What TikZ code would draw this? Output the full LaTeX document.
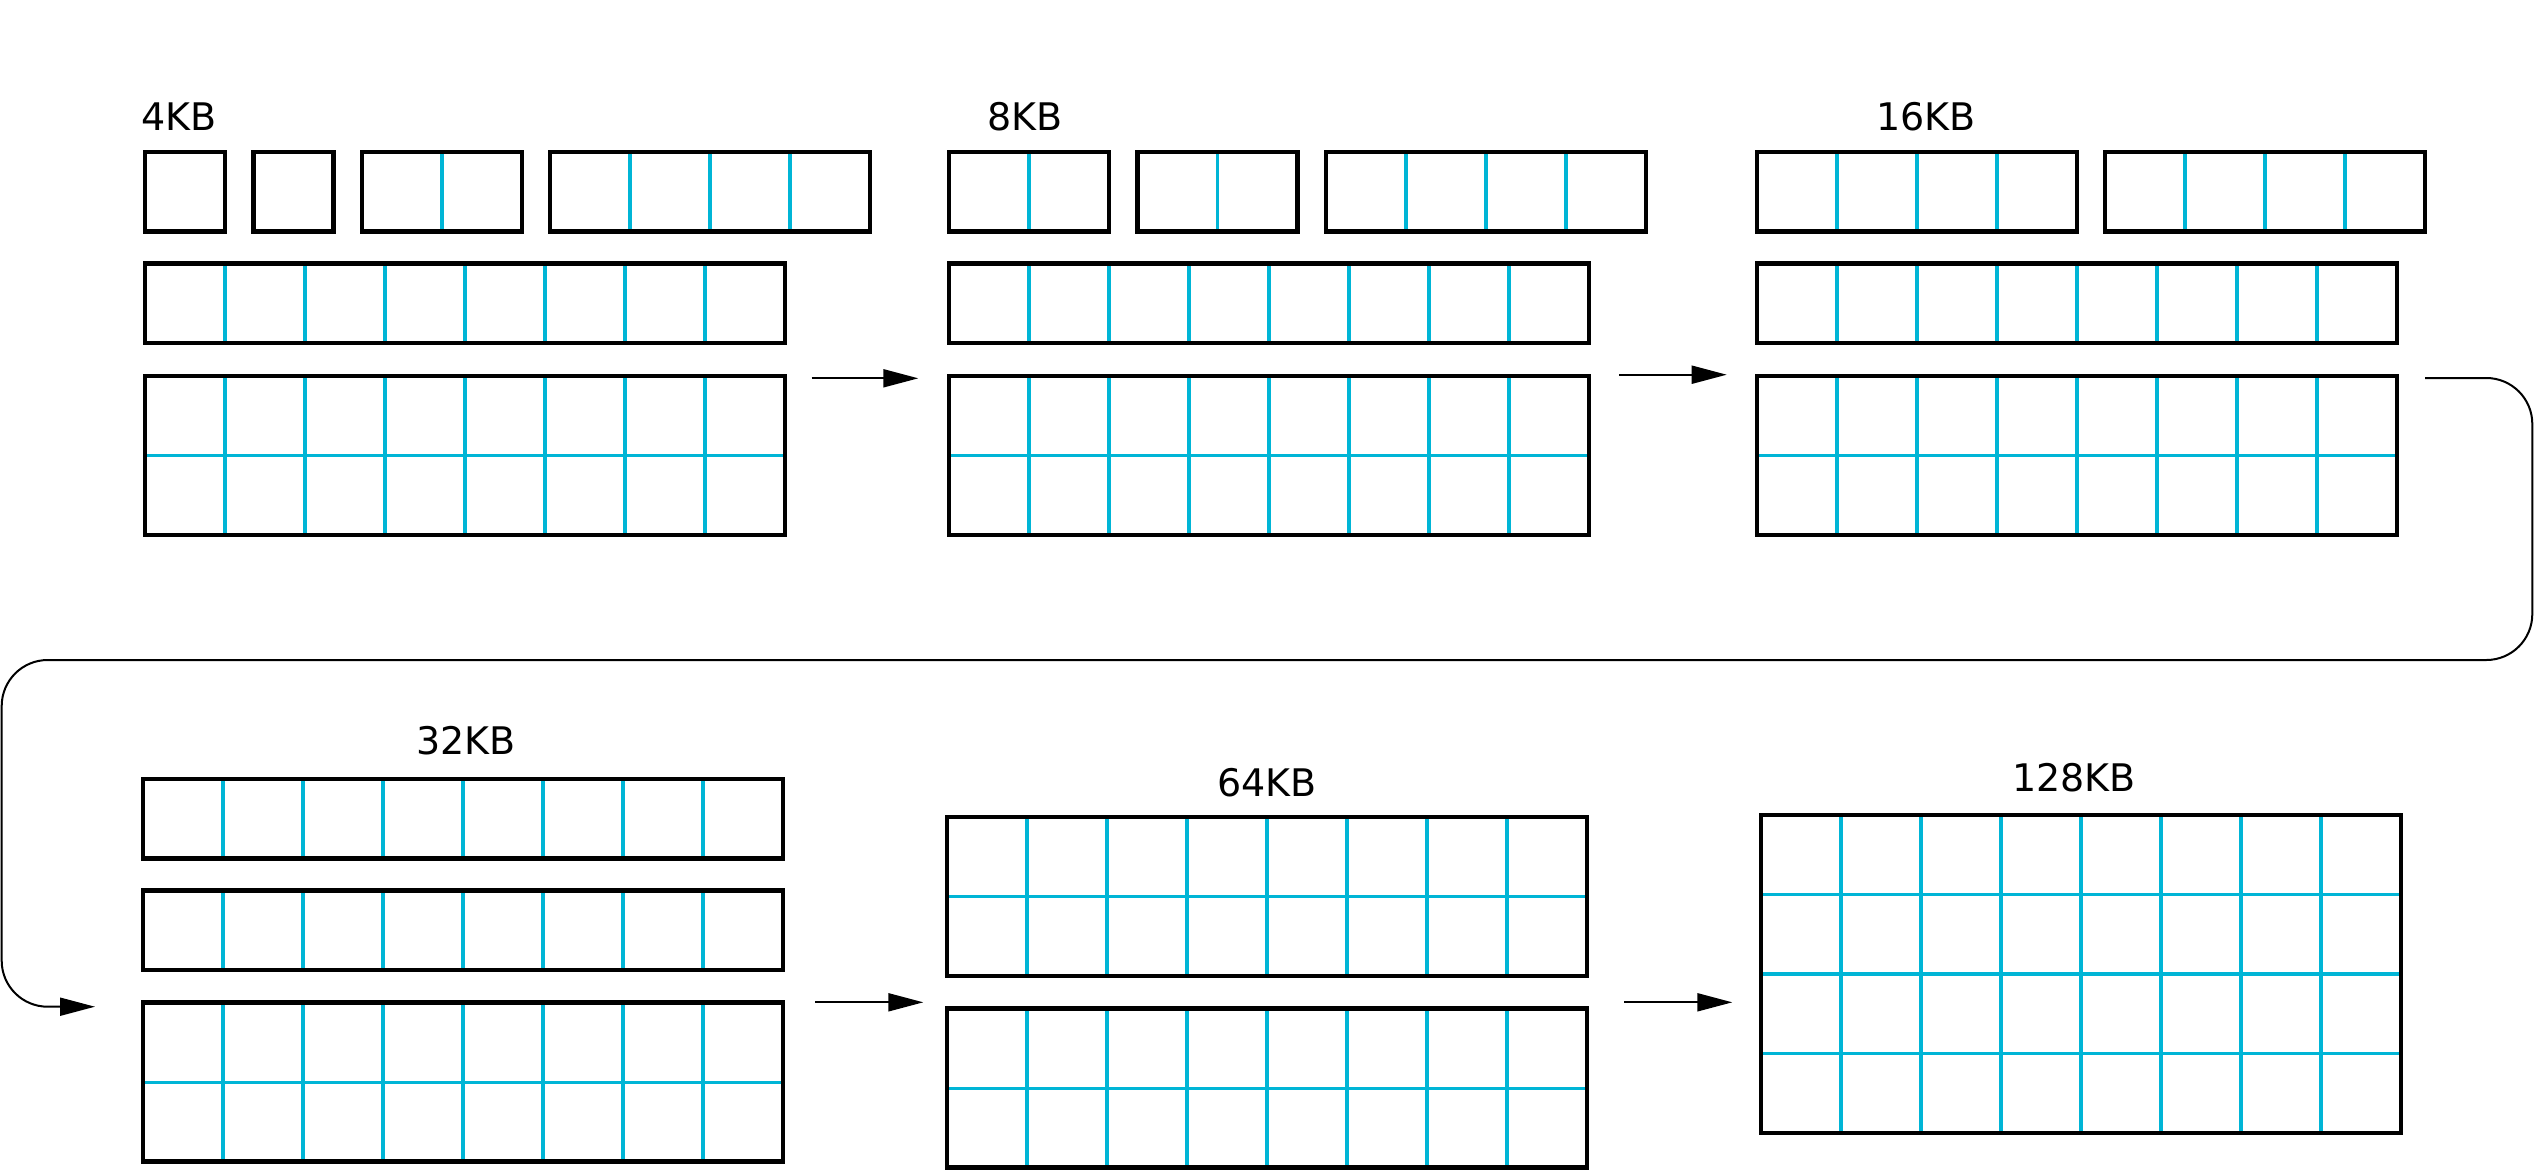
\documentclass[tikz,border=0pt]{standalone}
\usepackage{fontspec}
\setmainfont{DejaVu Sans}
\usetikzlibrary{arrows.meta}
\definecolor{cellcyan}{HTML}{00B5D6}
\def\rowh{79.5}
\newcommand\memblock[5]{%
  \pgfmathtruncatemacro\mbc{#4-1}%
  \pgfmathtruncatemacro\mbr{#5-1}%
  \ifnum\mbc>0 \foreach \i in {1,...,\mbc} {\draw[cell] (#2+\i*80,#3) -- ++(0,#5*\rowh);}\fi
  \ifnum\mbr>0 \foreach \j in {1,...,\mbr} {\draw[cell] (#2,#3+\j*\rowh) -- ++(#4*80,0);}\fi
  \node[blk, minimum width={#4*80pt}, minimum height={#5*\rowh*1pt}, anchor=north west] (#1) at (#2,#3) {};
}
\begin{document}
\begin{tikzpicture}[x=1pt,y=-1pt,
  cell/.style={draw=cellcyan, line width=3.4pt},
  blk/.style={draw=black, line width=4.5pt, inner sep=0pt, outer sep=0pt},
  conn/.style={draw=black, line width=2pt, -{Triangle[length=35pt,width=18pt]}},
  lbl/.style={inner sep=0pt, anchor=base west, font=\fontsize{38}{40}\selectfont}]
\useasboundingbox (0,0) rectangle (2534,1171);
% panel 1: 4KB
\node[lbl] (l4) at (141,130) {4KB};
\memblock{p1a}{145}{152}{1}{1}
\memblock{p1b}{253.5}{152}{1}{1}
\memblock{p1c}{362}{152}{2}{1}
\memblock{p1d}{550}{152}{4}{1}
\memblock{p1e}{145}{263.5}{8}{1}
\memblock{p1f}{145}{376}{8}{2}
% panel 2: 8KB
\node[lbl] (l8) at (987.5,130) {8KB};
\memblock{p2a}{949}{152}{2}{1}
\memblock{p2b}{1137.5}{152}{2}{1}
\memblock{p2c}{1326}{152}{4}{1}
\memblock{p2e}{949}{263.5}{8}{1}
\memblock{p2f}{949}{376}{8}{2}
% panel 3: 16KB
\node[lbl] (l16) at (1876,130) {16KB};
\memblock{p3a}{1757}{152}{4}{1}
\memblock{p3b}{2105}{152}{4}{1}
\memblock{p3e}{1757}{263.5}{8}{1}
\memblock{p3f}{1757}{376}{8}{2}
% panel 4: 32KB
\node[lbl] (l32) at (416,754) {32KB};
\memblock{p4a}{143}{779}{8}{1}
\memblock{p4b}{143}{890.7}{8}{1}
\memblock{p4c}{143}{1002.7}{8}{2}
% panel 5: 64KB
\node[lbl] (l64) at (1217,796) {64KB};
\memblock{p5a}{947}{817}{8}{2}
\memblock{p5b}{947}{1008.7}{8}{2}
% panel 6: 128KB
\node[lbl] (l128) at (2012,791.7) {128KB};
\memblock{p6a}{1761}{815}{8}{4}
% arrows
\coordinate (a1s) at (811.7,378.3);  \coordinate (a1e) at (918.3,378.3);
\coordinate (a2s) at (1619,374.7);   \coordinate (a2e) at (1726.7,374.7);
\coordinate (a3s) at (2425,378);     \coordinate (a3e) at (95,1006.7);
\coordinate (a4s) at (815,1002.3);   \coordinate (a4e) at (923.3,1002.3);
\coordinate (a5s) at (1624,1002.3);  \coordinate (a5e) at (1732.3,1002.3);
\draw[conn] (a1s) -- (a1e);
\draw[conn] (a2s) -- (a2e);
\draw[conn, rounded corners=46pt] (a3s) -- (2532.3,378) -- (2532.3,660) -- (1.7,660) -- (1.7,1006.7) -- (a3e);
\draw[conn] (a4s) -- (a4e);
\draw[conn] (a5s) -- (a5e);
\end{tikzpicture}
\end{document}
